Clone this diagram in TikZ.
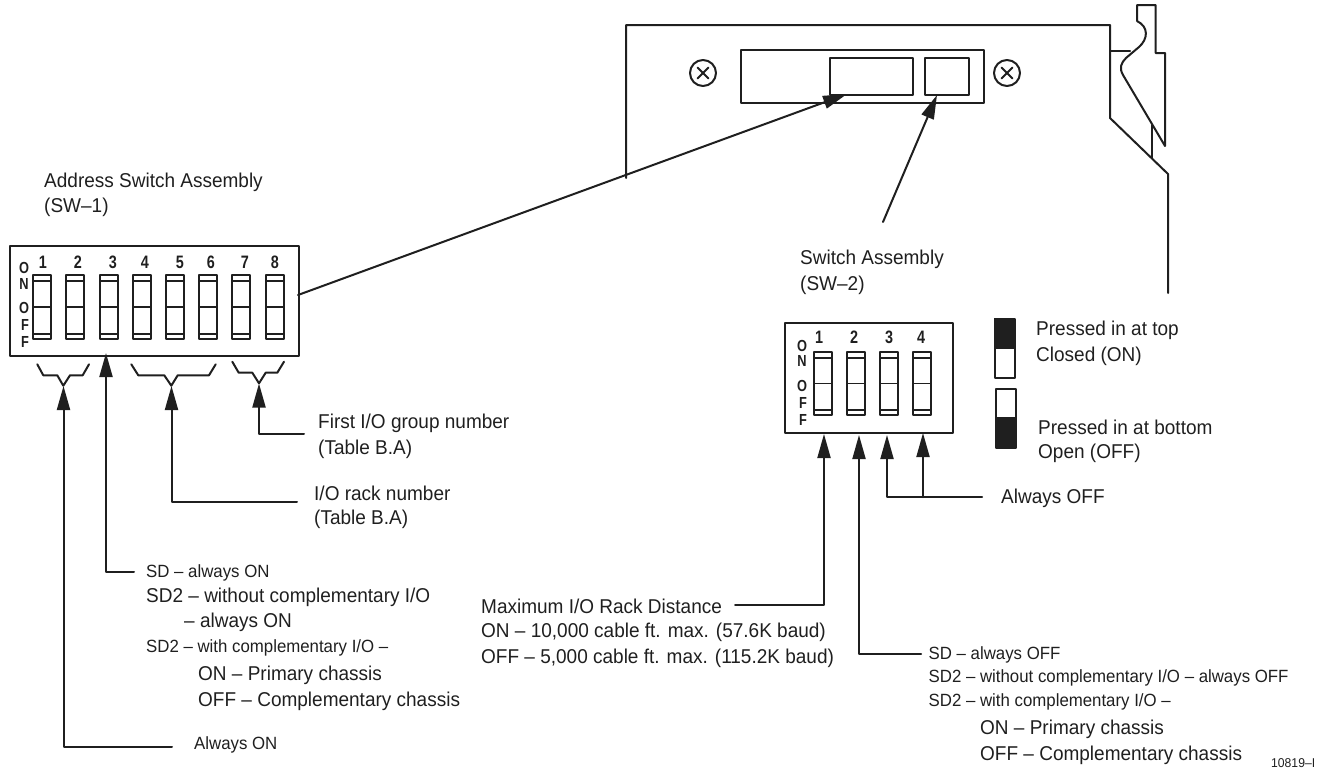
\documentclass[tikz,border=0pt]{standalone}
\usepackage{fontspec}
\setmainfont{Liberation Sans}[FakeStretch=0.95]
\newfontface\boldnarrow{Liberation Sans Bold}[FakeStretch=0.8]
\usetikzlibrary{arrows.meta}
\tikzset{
  ln/.style={line width=2pt,draw=black!88,line cap=round,line join=round},
  thin ln/.style={line width=1.1pt,draw=black!88},
  arr/.style={ln,-{Triangle[length=24pt,width=13pt]}},
  boxn/.style={ln,rectangle,inner sep=0pt,anchor=north west},
  txt/.style={anchor=west,inner sep=0pt,text=black!88,font=\fontsize{20}{22}\selectfont},
  small/.style={txt,font=\fontsize{17.7}{20}\selectfont},
  num/.style={inner sep=0pt,text=black!88,font=\fontsize{18}{18}\boldnarrow},
  let/.style={inner sep=0pt,text=black!88,font=\fontsize{16}{16}\boldnarrow},
  screw/.style={ln,circle,minimum size=26pt,inner sep=0pt},
}
\newcommand{\dipsw}[4]{% x, top, bottom, name
  \node[boxn,line width=2.4pt,minimum width=18pt,minimum height={(#3)-(#2)},outer sep=0pt] (#4) at (#1,#2) {};
  \draw[thin ln] (#1,#2+6) -- ++(18,0);
  \draw[ln,line width=1.6pt] (#1,{(#2+#3)/2}) -- ++(18,0);
  \draw[thin ln] (#1,#3-5) -- ++(18,0);
}
\begin{document}
\begin{tikzpicture}[x=1pt,y=-1pt]
\useasboundingbox (0,0) rectangle (1323,772);

% ---- module panel
\coordinate (pa) at (626,178);
\coordinate (pb) at (626,25);
\coordinate (pc) at (1110,25);
\coordinate (pd) at (1110,118);
\coordinate (pe) at (1168,174);
\coordinate (pf) at (1168,293);
\draw[ln] (pa) -- (pb) -- (pc) -- (pd) -- (pe) -- (pf);
\draw[ln] (1110,51) -- (1130,51);
\draw[ln] (1152,125) -- (1152,158);
\draw[ln] (1137,21) -- (1137,5) -- (1155.5,5) -- (1155.5,53) -- (1165,53) -- (1165,146)
  -- (1123,75) .. controls (1119,68) and (1121,63) .. (1126,58)
  -- (1139,47) .. controls (1148,39) and (1149,27) .. (1137,21);

\node[boxn,minimum width=243pt,minimum height=53pt] (holder) at (740,49) {};
\node[boxn,minimum width=83pt,minimum height=37pt] (sw1win) at (829,57) {};
\node[boxn,minimum width=44pt,minimum height=37pt] (sw2win) at (924,57) {};
\node[screw] (s1) at (703,73) {};
\node[screw] (s2) at (1007,73) {};
\foreach \c in {s1,s2}{
  \draw[ln] ([shift={(-5.5,-5.5)}]\c.center) -- ([shift={(5.5,5.5)}]\c.center);
  \draw[ln] ([shift={(-5.5,5.5)}]\c.center) -- ([shift={(5.5,-5.5)}]\c.center);
}

% ---- SW-1
\node[txt] (t1a) at (44,182) {Address Switch Assembly};
\node[txt] (t1b) at (44,207) {(SW–1)};
\node[boxn,minimum width=289pt,minimum height=110pt] (lbox) at (9,245) {};
\foreach \x/\n/\nx in {33/1/43,66/2/78,100/3/113,133/4/145,166/5/180,199/6/211,232/7/245,266/8/275}{
  \dipsw{\x}{275}{339}{l\n}
  \node[num] (ln\n) at (\nx,262) {\n};
}
\node[let] (la) at (24,268) {O};
\node[let] (lb) at (24,284) {N};
\node[let] (lc) at (24,308) {O};
\node[let] (ld) at (25,325) {F};
\node[let] (le) at (25,342) {F};

\coordinate (a1s) at (298,295);
\coordinate (a1t) at (847,94);
\draw[arr] (a1s) -- (a1t);
\coordinate (a2s) at (883,222);
\coordinate (a2t) at (937,95);
\draw[arr] (a2s) -- (a2t);

% brackets
\draw[ln] (37.3,364.3) -- (43.3,375.3) -- (57.3,375.3) -- (63.3,385.7) -- (70,375.3) -- (82.7,375.3) -- (89,364.3);
\draw[ln] (131.3,364.3) -- (138.3,375.3) -- (164.3,375.3) -- (171.3,385.7) -- (177.7,375.3) -- (209,375.3) -- (215.7,364.3);
\draw[ln] (232.3,361.7) -- (238.7,372.7) -- (252.3,372.7) -- (259,383.3) -- (265.7,372.7) -- (277.3,372.7) -- (284,361.7);

% arrows SW-1
\node[small] (alwon) at (194,745) {Always ON};
\coordinate (e1) at (172,747);
\coordinate (t1) at (63.5,386);
\draw[arr] (e1) -| (t1);
\node[small] (sd) at (146,573) {SD – always ON};
\coordinate (e3) at (134,572);
\coordinate (t3) at (106,353);
\draw[arr] (e3) -| (t3);
\node[txt] (rack) at (314,493) {I/O rack number};
\node[txt] (rackb) at (314,519) {(Table B.A)};
\coordinate (e4) at (297,502);
\coordinate (t4) at (171.5,386);
\draw[arr] (e4) -| (t4);
\node[txt] (grp) at (318,423) {First I/O group number};
\node[txt] (grpb) at (318,449) {(Table B.A)};
\coordinate (e7) at (304,434);
\coordinate (t7) at (259,383.5);
\draw[arr] (e7) -| (t7);

\node[txt] (sd2) at (146,597) {SD2 – without complementary I/O};
\node[txt] (sd2b) at (184,622) {– always ON};
\node[small] (sd2c) at (146,648) {SD2 – with complementary I/O –};
\node[txt] (onp) at (198,675) {ON – Primary chassis};
\node[txt] (offc) at (198,701) {OFF – Complementary chassis};

% ---- SW-2
\node[txt] (t2a) at (800,259) {Switch Assembly};
\node[txt] (t2b) at (800,285) {(SW–2)};
\node[boxn,minimum width=168pt,minimum height=110pt] (rbox) at (784,322) {};
\foreach \x/\n/\nx in {814/1/819,847/2/854,880/3/889,913/4/921}{
  \dipsw{\x}{352}{415}{r\n}
  \node[num] (rn\n) at (\nx,337) {\n};
}
\node[let] (ra) at (802,346) {O};
\node[let] (rb) at (802,361) {N};
\node[let] (rc) at (802,386) {O};
\node[let] (rd) at (803,403) {F};
\node[let] (re) at (803,420) {F};

\node[txt] (aoff) at (1001,498) {Always OFF};
\coordinate (e33) at (982,497);
\coordinate (t33) at (887,435);
\coordinate (t34) at (923,433);
\coordinate (j34) at (923,497);
\draw[arr] (e33) -| (t33);
\draw[arr] (j34) -- (t34);

\node[txt] (max) at (481,606) {Maximum I/O Rack Distance};
\node[txt] (max1) at (481,632) {ON – 10,000 cable ft. max. (57.6K baud)};
\node[txt] (max2) at (481,658) {OFF – 5,000 cable ft. max. (115.2K baud)};
\coordinate (e31) at (735,605);
\coordinate (t31) at (824,434);
\draw[arr] (e31) -| (t31);
\coordinate (e32) at (921,654);
\coordinate (t32) at (859,435);
\draw[arr] (e32) -| (t32);

\node[small] (rs1) at (928.5,655) {SD – always OFF};
\node[small] (rs2) at (928.5,678) {SD2 – without complementary I/O – always OFF};
\node[small] (rs3) at (928.5,702) {SD2 – with complementary I/O –};
\node[txt] (ron) at (980,729) {ON – Primary chassis};
\node[txt] (roff) at (980,755) {OFF – Complementary chassis};
\node[txt,font=\fontsize{12.8}{14}\selectfont] (fig) at (1271,763) {10819–I};

% ---- legend
\node[boxn,minimum width=20pt,minimum height=59pt] (lg1) at (994,318) {};
\fill[black!88] (994,318) rectangle (1014,349);
\node[boxn,minimum width=20pt,minimum height=59pt] (lg2) at (994.5,388) {};
\fill[black!88] (994.5,417) rectangle (1014.5,447);
\node[txt] (p1) at (1036,330) {Pressed in at top};
\node[txt] (p2) at (1036,356) {Closed (ON)};
\node[txt] (p3) at (1038,427) {Pressed in at bottom};
\node[txt] (p4) at (1038,453) {Open (OFF)};
\end{tikzpicture}
\end{document}
